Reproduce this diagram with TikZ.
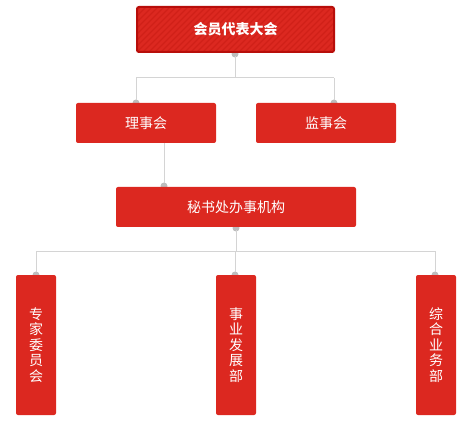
\documentclass[tikz,border=0pt]{standalone}
\usepackage{fontspec}
\newfontfamily\cjk{Noto Sans CJK SC}
\definecolor{boxred}{HTML}{DC2820}
\definecolor{boxdark}{HTML}{B80E0A}
\definecolor{stripe}{HTML}{D02018}
\definecolor{linegray}{HTML}{D4D4D4}
\definecolor{dotgray}{HTML}{BDBDBD}
\tikzset{
  box/.style={fill=boxred, rounded corners=2pt, inner sep=0pt, text=white, font=\cjk\fontsize{14}{15.5}\selectfont, align=center},
  conn/.style={draw=linegray, line width=1pt},
  dot/.style={fill=dotgray, draw=none},
}
\begin{document}
\begin{tikzpicture}[x=1pt,y=-1pt]
\useasboundingbox (0,0) rectangle (469,425);
% connectors
\coordinate (t1) at (235,78);
\coordinate (b1) at (236,251);
\fill[dot] (235,54) circle (3.5);
\fill[dot] (136,103) circle (3.5);
\fill[dot] (334,103) circle (3.5);
\fill[dot] (164,186) circle (3.5);
\fill[dot] (236,228) circle (3.5);
\fill[dot] (36,275) circle (3.5);
\fill[dot] (235,275) circle (3.5);
\fill[dot] (435,275) circle (3.5);
\node[box, minimum width=140pt, minimum height=40pt] (ls) at (146,123) {理事会};
\node[box, minimum width=140pt, minimum height=40pt] (js) at (326,123) {监事会};
\node[box, minimum width=240pt, minimum height=40pt] (ms) at (236,207) {秘书处办事机构};
\node[box, minimum width=40pt, minimum height=140pt] (zj) at (36,345) {专\\家\\委\\员\\会};
\node[box, minimum width=40pt, minimum height=140pt] (sy) at (236,345) {事\\业\\发\\展\\部};
\node[box, minimum width=40pt, minimum height=140pt] (zh) at (436,345) {综\\合\\业\\务\\部};
\node[box, draw=boxdark, line width=2pt, minimum width=197pt, minimum height=45pt,
  path picture={\foreach \i in {-60,-54,...,220} {\draw[stripe, line width=1.2pt] ([xshift=\i pt]path picture bounding box.south west) -- ++(50pt,50pt);}},
  font=\cjk\bfseries\fontsize{14}{16}\selectfont] (top) at (235.5,29.5) {会员代表大会};
\draw[conn] (235,56) -- (t1);
\draw[conn] (136,78) -- (334,78);
\draw[conn] (136,78) -- (136,100);
\draw[conn] (334,78) -- (334,100);
\draw[conn] (164,143) -- (164,183);
\draw[conn] (236,230) -- (b1);
\draw[conn] (36,251) -- (436,251);
\draw[conn] (36,251) -- (36,272);
\draw[conn] (235,251) -- (235,272);
\draw[conn] (435,251) -- (435,272);
\end{tikzpicture}
\end{document}
